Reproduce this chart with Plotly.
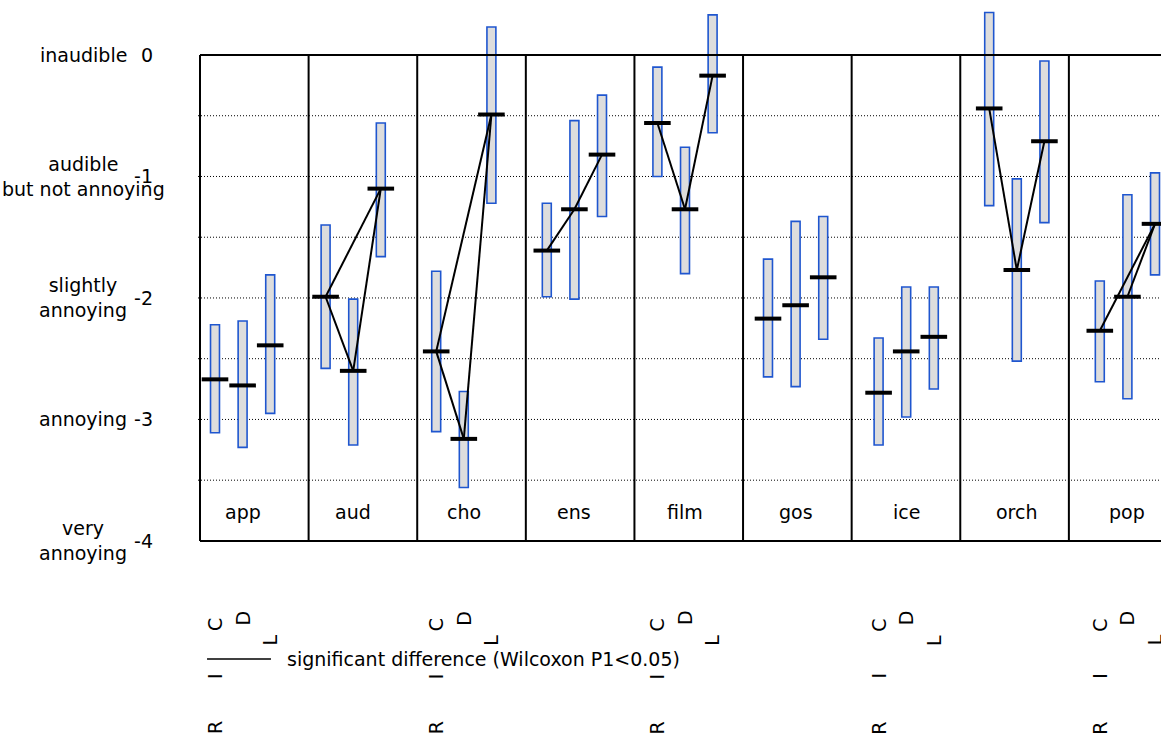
import plotly.graph_objects as go

# ---------------- data ----------------
categories = ["app", "aud", "cho", "ens", "film", "gos", "ice", "orch", "pop"]
conditions = ["RIC", "D", "L"]

upper = {
    "app": [-2.22, -2.19, -1.81],
    "aud": [-1.40, -2.01, -0.56],
    "cho": [-1.78, -2.77, 0.23],
    "ens": [-1.22, -0.54, -0.33],
    "film": [-0.10, -0.76, 0.33],
    "gos": [-1.68, -1.37, -1.33],
    "ice": [-2.33, -1.91, -1.91],
    "orch": [0.35, -1.02, -0.05],
    "pop": [-1.86, -1.15, -0.97],
}
lower = {
    "app": [-3.11, -3.23, -2.95],
    "aud": [-2.58, -3.21, -1.66],
    "cho": [-3.10, -3.56, -1.22],
    "ens": [-1.99, -2.01, -1.33],
    "film": [-1.00, -1.80, -0.64],
    "gos": [-2.65, -2.73, -2.34],
    "ice": [-3.21, -2.98, -2.75],
    "orch": [-1.24, -2.52, -1.38],
    "pop": [-2.69, -2.83, -1.81],
}
median = {
    "app": [-2.67, -2.72, -2.39],
    "aud": [-1.99, -2.60, -1.10],
    "cho": [-2.44, -3.16, -0.49],
    "ens": [-1.61, -1.27, -0.82],
    "film": [-0.56, -1.27, -0.17],
    "gos": [-2.17, -2.06, -1.83],
    "ice": [-2.78, -2.44, -2.32],
    "orch": [-0.44, -1.77, -0.71],
    "pop": [-2.27, -1.99, -1.39],
}
# significant pairs (condition indices) per category
significant = {
    "aud": [(0, 2), (0, 1), (1, 2)],
    "cho": [(0, 2), (0, 1), (1, 2)],
    "ens": [(0, 1), (1, 2)],
    "film": [(0, 1), (1, 2)],
    "orch": [(0, 1), (1, 2)],
    "pop": [(0, 2), (1, 2)],
}
y_ticks = [0, -1, -2, -3, -4]
y_verbal = ["inaudible", "audible<br>but not annoying", "slightly<br>annoying",
            "annoying", "very<br>annoying"]
legend_text = "significant difference (Wilcoxon P1<0.05)"

# ---------------- layout constants ----------------
FONT = "DejaVu Sans"
FS = 19
BLUE = "#1f56cf"
COND_STEP = 0.2496          # spacing of the three bars inside a category
BAR_W = 0.081
GROUP_X0 = -0.1356          # left edge of first category frame
GROUP_STEP = 0.982          # width of category frames
X_RANGE = [-0.1537, 8.5533]
Y_RANGE = [-4.05, 0.4115]

def bx(i, j):
    return i + j * COND_STEP

fig = go.Figure()

# bars (ranges)
for j in range(3):
    xs = [bx(i, j) for i in range(len(categories))]
    fig.add_trace(go.Bar(
        x=xs,
        base=[lower[c][j] for c in categories],
        y=[upper[c][j] - lower[c][j] for c in categories],
        width=BAR_W,
        marker=dict(color="#dddddd", line=dict(color=BLUE, width=1.6)),
        showlegend=False, hoverinfo="skip",
    ))

# significance lines
lx, ly = [], []
for i, c in enumerate(categories):
    for a, b in significant.get(c, []):
        lx += [bx(i, a), bx(i, b), None]
        ly += [median[c][a], median[c][b], None]
fig.add_trace(go.Scatter(x=lx, y=ly, mode="lines",
                         line=dict(color="black", width=2),
                         showlegend=False, hoverinfo="skip"))

# medians
mx, my = [], []
for i, c in enumerate(categories):
    for j in range(3):
        mx.append(bx(i, j))
        my.append(median[c][j])
fig.add_trace(go.Scatter(x=mx, y=my, mode="markers",
                         marker=dict(symbol="line-ew", size=19,
                                     line=dict(color="black", width=4)),
                         showlegend=False, hoverinfo="skip"))

shapes = []
# dotted gridlines
for k in range(1, 8):
    yv = -0.5 * k
    shapes.append(dict(type="line", xref="x", yref="y", x0=X_RANGE[0], x1=X_RANGE[1],
                       y0=yv, y1=yv, line=dict(color="black", width=1, dash="1px,2px"),
                       layer="below"))
# frame: top / bottom lines
for yv in (0, -4):
    shapes.append(dict(type="line", xref="x", yref="y", x0=GROUP_X0, x1=X_RANGE[1] + 1,
                       y0=yv, y1=yv, line=dict(color="black", width=2)))
# category frames
for k in range(len(categories) + 1):
    xv = GROUP_X0 + k * GROUP_STEP
    shapes.append(dict(type="line", xref="x", yref="y", x0=xv, x1=xv,
                       y0=-4, y1=0, line=dict(color="black", width=2)))
# legend line
shapes.append(dict(type="line", xref="x", yref="paper", x0=-0.072, x1=0.506,
                   y0=-0.2066, y1=-0.2066, line=dict(color="black", width=1.5)))

annotations = []
# verbal scale labels
for v, t in zip(y_ticks, y_verbal):
    annotations.append(dict(x=-0.1194, y=v, xref="paper", yref="y", text=t,
                            showarrow=False, xanchor="center", yanchor="middle",
                            font=dict(family=FONT, size=FS, color="black")))
# category labels
for i, c in enumerate(categories):
    annotations.append(dict(x=bx(i, 1), y=-3.76, xref="x", yref="y", text=c,
                            showarrow=False, font=dict(family=FONT, size=FS, color="black")))
# rotated condition labels (every other category), paper y positions
letter_pos = {0: [("R", -0.334), ("I", -0.238), ("C", -0.144)],
              1: [("D", -0.131)],
              2: [("L", -0.172)]}
for i in range(0, len(categories), 2):
    for j in range(3):
        for ch, yv in letter_pos[j]:
            annotations.append(dict(x=bx(i, j), y=yv, xref="x", yref="paper", text=ch,
                                    textangle=-90, showarrow=False,
                                    xanchor="center", yanchor="middle",
                                    font=dict(family=FONT, size=FS, color="black")))
# legend text
annotations.append(dict(x=0.63, y=-0.2066, xref="x", yref="paper", text=legend_text,
                        showarrow=False, xanchor="left", yanchor="middle",
                        font=dict(family=FONT, size=FS, color="black")))

fig.update_layout(
    width=1161, height=743,
    margin=dict(l=198, r=0, t=5, b=196),
    paper_bgcolor="white", plot_bgcolor="white",
    barmode="overlay",
    showlegend=False,
    shapes=shapes, annotations=annotations,
    xaxis=dict(range=X_RANGE, showgrid=False, zeroline=False, showticklabels=False,
               showline=False, ticks=""),
    yaxis=dict(range=Y_RANGE, tickvals=y_ticks, ticktext=[str(v) for v in y_ticks],
               showgrid=False, zeroline=False, showline=False, ticks="",
               ticklabelstandoff=44,
               tickfont=dict(family=FONT, size=FS, color="black")),
)

fig.write_html("out.html")
